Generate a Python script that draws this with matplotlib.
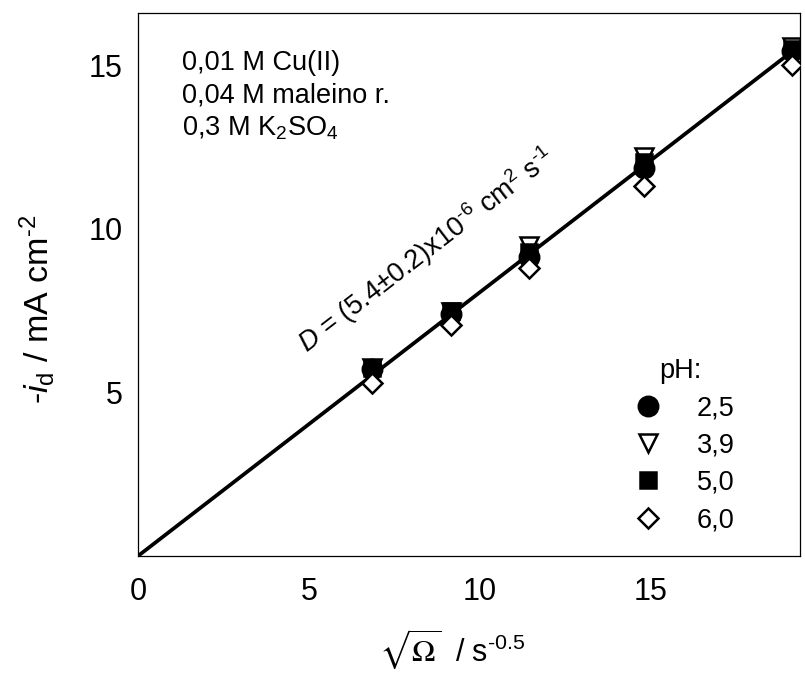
import matplotlib
matplotlib.use("Agg")
import matplotlib.pyplot as plt
import numpy as np

plt.rcParams["font.family"] = ["Liberation Sans", "DejaVu Sans"]
plt.rcParams["mathtext.fontset"] = "custom"
plt.rcParams["mathtext.rm"] = "Liberation Sans"
plt.rcParams["mathtext.it"] = "Liberation Sans:italic"

# sqrt(omega) / s^-0.5
sqrt_omega = [6.86, 9.16, 11.45, 14.82, 19.15]

# -i_d / mA cm^-2 for each pH
id_ph25 = [5.72, 7.40, 9.14, 11.85, 15.45]
id_ph39 = [5.76, 7.45, 9.48, 12.20, 15.55]
id_ph50 = [5.74, 7.49, 9.30, 12.05, 15.50]
id_ph60 = [5.29, 7.06, 8.81, 11.32, 15.00]

fit_slope = 0.806
fit_x = [0.0, 19.6]

TICK_FS = 22
TEXT_FS = 19.5

fig = plt.figure(figsize=(8.05, 6.73), dpi=100)
ax = fig.add_axes([138 / 805, 1 - 556 / 673, 662 / 805, 543 / 673])

ax.plot(fit_x, [fit_slope * v for v in fit_x], color="black", lw=2.7, zorder=2,
        solid_capstyle="butt")

mk = dict(linestyle="none", markeredgecolor="black", markeredgewidth=1.8, zorder=3)
ax.plot(sqrt_omega, id_ph25, marker="o", ms=14, mfc="black", label="2,5", **mk)
ax.plot(sqrt_omega, id_ph39, marker="v", ms=13, mfc="white", label="3,9", **mk)
ax.plot(sqrt_omega, id_ph50, marker="s", ms=12, mfc="black", label="5,0", **mk)
ax.plot(sqrt_omega, id_ph60, marker="D", ms=10.5, mfc="white", label="6,0", **mk)

ax.set_xlim(0, 19.37)
ax.set_ylim(0, 16.6)
ax.set_xticks([0, 5, 10, 15])
ax.set_yticks([5, 10, 15])
ax.tick_params(axis="both", labelsize=TICK_FS, length=0)
ax.tick_params(axis="x", pad=15)
ax.tick_params(axis="y", pad=11)
for sp in ax.spines.values():
    sp.set_linewidth(0.9)

ax.set_ylabel(r"-$\mathit{i}_\mathrm{d}$ / mA cm$^{\text{-2}}$", fontsize=24.5)
ax.yaxis.set_label_coords(-0.122, 0.455)

# x label: serif sqrt(Omega) followed by sans units
fig.text(441 / 805, 1 - 661 / 673, r"$\sqrt{\Omega}$", fontsize=22.5,
         ha="right", va="baseline", math_fontfamily="stix")
fig.text(455 / 805, 1 - 662 / 673, r"/ s$^{\text{-0.5}}$", fontsize=TICK_FS,
         ha="left", va="baseline")

ax.text(1.3, 14.85, "0,01 M Cu(II)", fontsize=TEXT_FS)
ax.text(1.3, 13.85, "0,04 M maleino r.", fontsize=TEXT_FS)
ax.text(1.3, 12.85, r"0,3 M K$_2$SO$_4$", fontsize=TEXT_FS)

ang = np.degrees(np.arctan(fit_slope * 32.7 / 34.2))
ax.text(8.45, 9.35,
        r"$\mathit{D}$ = (5.4±0.2)x10$^{\text{-6}}$ cm$^{2}$ s$^{\text{-1}}$",
        fontsize=TEXT_FS, rotation=ang, rotation_mode="anchor",
        ha="center", va="center")

leg = ax.legend(loc="lower right", bbox_to_anchor=(0.918, 0.022), frameon=False,
                fontsize=TEXT_FS, title="pH:", title_fontsize=TEXT_FS,
                handletextpad=1.0, labelspacing=0.42, borderaxespad=0,
                handlelength=1.6)

fig.savefig("out.png", dpi=100)
